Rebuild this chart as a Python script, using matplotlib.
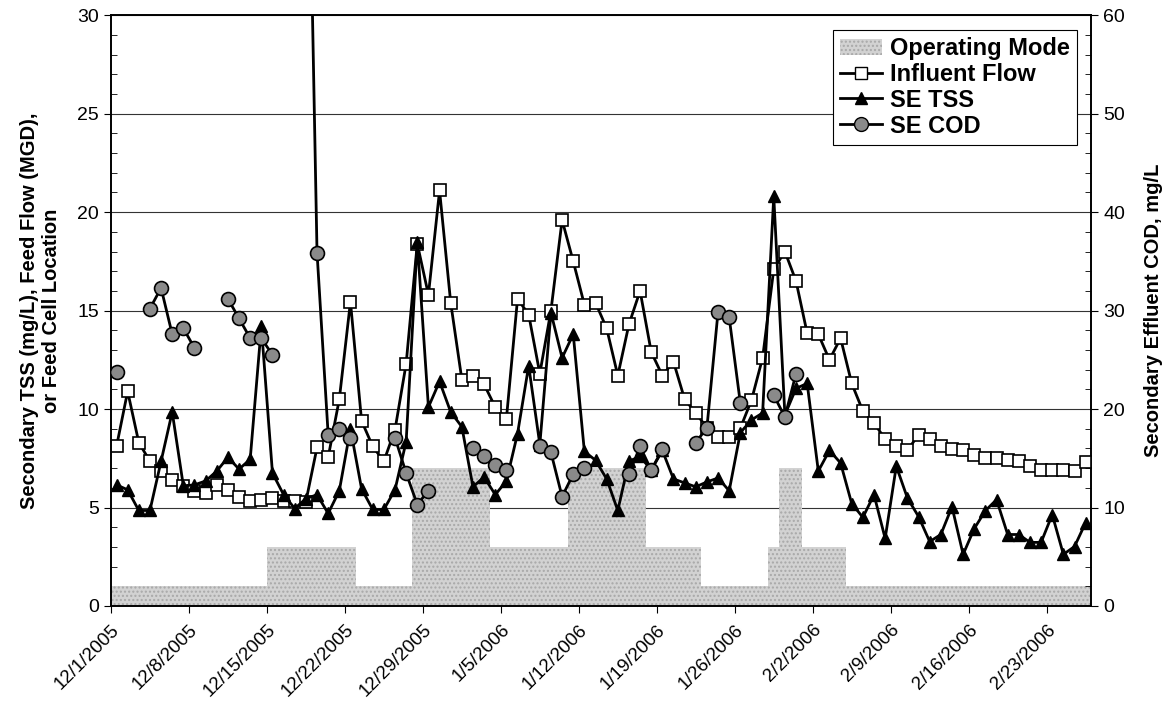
import numpy as np
import matplotlib
matplotlib.use("Agg")
import matplotlib.pyplot as plt
import matplotlib.transforms as mtransforms
from matplotlib.patches import Patch
from matplotlib.lines import Line2D
from matplotlib.ticker import MultipleLocator
import pandas as pd

plt.rcParams["font.family"] = ["Liberation Sans", "DejaVu Sans"]

# daily samples, 12/1/2005 .. 2/26/2006
dates = pd.date_range("2005-12-01", periods=88, freq="D")

operating_mode = (
    [1] * 14 + [3] * 8 + [1] * 5 + [7] * 7 + [3] * 7 + [7] * 7 + [3] * 5
    + [1] * 6 + [3] * 1 + [7] * 2 + [3] * 4 + [1] * 22
)

influent_flow = [
    8.1, 10.9, 8.3, 7.35, 6.85, 6.4, 6.1, 5.85, 5.75, 6.15,
    5.9, 5.55, 5.35, 5.4, 5.5, 5.35, 5.35, 5.3, 8.05, 7.55,
    10.5, 15.45, 9.4, 8.1, 7.35, 8.95, 12.3, 18.4, 15.8, 21.1,
    15.4, 11.5, 11.7, 11.25, 10.1, 9.5, 15.6, 14.8, 11.8, 15.0,
    19.6, 17.5, 15.3, 15.4, 14.1, 11.7, 14.3, 16.0, 12.9, 11.7,
    12.4, 10.5, 9.8, 9.05, 8.57, 8.6, 9.03, 10.45, 12.6, 17.1,
    18.0, 16.5, 13.85, 13.8, 12.5, 13.6, 11.3, 9.9, 9.3, 8.47,
    8.1, 7.9, 8.7, 8.47, 8.1, 7.95, 7.9, 7.65, 7.5, 7.5,
    7.4, 7.35, 7.1, 6.9, 6.9, 6.9, 6.85, 7.3,
]

se_tss = [
    6.15, 5.9, 4.85, 4.85, 7.35, 9.85, 6.1, 6.15, 6.35, 6.85,
    7.55, 6.95, 7.45, 14.2, 6.75, 5.65, 4.95, 5.45, 5.65, 4.7,
    5.85, 9.0, 5.95, 4.9, 4.9, 5.9, 8.35, 18.5, 10.1, 11.4,
    9.85, 9.1, 6.05, 6.55, 5.65, 6.35, 8.75, 12.2, 8.2, 14.9,
    12.6, 13.8, 7.85, 7.4, 6.45, 4.85, 7.35, 7.6, 6.9, 7.9,
    6.45, 6.25, 6.05, 6.3, 6.5, 5.85, 8.8, 9.45, 9.8, 20.8,
    9.7, 11.05, 11.3, 6.85, 7.9, 7.26, 5.2, 4.5, 5.65, 3.43,
    7.1, 5.48, 4.54, 3.27, 3.63, 5.04, 2.62, 3.93, 4.84, 5.4,
    3.63, 3.63, 3.23, 3.23, 4.64, 2.62, 3.02, 4.23,
]

nan = np.nan
se_cod = [
    23.8, nan, nan, 30.2, 32.3, 27.6, 28.2, 26.2, nan, nan,
    31.2, 29.2, 27.2, 27.2, 25.5, nan, nan, 95.0, 35.9, 17.4,
    18.0, 17.1, nan, nan, nan, 17.1, 13.5, 10.3, 11.7, nan,
    nan, nan, 16.0, 15.2, 14.3, 13.8, nan, nan, 16.2, 15.6,
    11.1, 13.4, 14.0, nan, nan, nan, 13.4, 16.2, 13.8, 15.9,
    nan, nan, 16.6, 18.1, 29.9, 29.3, 20.6, nan, nan, 21.4,
    19.2, 23.6, nan, nan, nan, nan, nan, nan, nan, nan,
    nan, nan, nan, nan, nan, nan, nan, nan, nan, nan,
    nan, nan, nan, nan, nan, nan, nan, nan,
]

tick_days = list(range(0, 85, 7))
tick_labels = [f"{d.month}/{d.day}/{d.year}" for d in dates[tick_days]]

days = np.arange(len(dates))
centers = days + 0.5

fig = plt.figure(figsize=(11.74, 7.24), dpi=100)
ax = fig.add_axes([0.0945, 0.163, 0.835, 0.816])

mode_color = "#d2d2d2"
ax.bar(days, operating_mode, width=1.0, align="edge", color=mode_color,
       edgecolor="#a8a8a8", linewidth=0, hatch="....", zorder=1)

ax.plot(centers, influent_flow, color="black", lw=2, marker="s", ms=9,
        mfc="white", mec="black", mew=1.2, zorder=4)
ax.plot(centers, se_tss, color="black", lw=2, marker="^", ms=9,
        mfc="black", mec="black", zorder=5)

ax.set_xlim(0, 88)
ax.set_ylim(0, 30)
ax.yaxis.set_major_locator(MultipleLocator(5))
ax.yaxis.set_minor_locator(MultipleLocator(1))
ax.grid(axis="y", which="major", color="#333333", lw=0.8, zorder=0)
ax.set_axisbelow(True)
ax.set_xticks(tick_days)
ax.set_xticklabels(tick_labels, rotation=45, ha="right", rotation_mode="anchor",
                   fontsize=13.5)
# nudge date labels a little left, as in the original
shift = mtransforms.ScaledTranslation(-5 / 100, -2 / 100, fig.dpi_scale_trans)
for lbl in ax.get_xticklabels():
    lbl.set_transform(lbl.get_transform() + shift)
ax.tick_params(axis="y", which="major", direction="out", length=5, labelsize=14)
ax.tick_params(axis="y", which="minor", direction="in", length=4)
ax.tick_params(axis="x", direction="out", length=5, pad=6)
ax.set_ylabel("Secondary TSS (mg/L), Feed Flow (MGD),\nor Feed Cell Location",
              fontsize=14.5, fontweight="bold", labelpad=12)

ax2 = ax.twinx()
ax2.plot(centers, se_cod, color="black", lw=2, marker="o", ms=10,
         mfc="#8a8a8a", mec="black", mew=1.2, zorder=6)
ax2.set_ylim(0, 60)
ax2.yaxis.set_major_locator(MultipleLocator(10))
ax2.yaxis.set_minor_locator(MultipleLocator(2))
ax2.tick_params(axis="y", which="major", direction="out", length=5, labelsize=14)
ax2.tick_params(axis="y", which="minor", direction="in", length=4)
ax2.set_ylabel("Secondary Effluent COD, mg/L", fontsize=14.5, fontweight="bold",
               labelpad=14)

for a in (ax, ax2):
    for s in a.spines.values():
        s.set_linewidth(1.2)

handles = [
    Patch(facecolor=mode_color, edgecolor="#a8a8a8", hatch="....", linewidth=0),
    Line2D([], [], color="black", lw=2, marker="s", ms=9, mfc="white", mec="black"),
    Line2D([], [], color="black", lw=2, marker="^", ms=9, mfc="black"),
    Line2D([], [], color="black", lw=2, marker="o", ms=10, mfc="#8a8a8a", mec="black"),
]
labels = ["Operating Mode", "Influent Flow", "SE TSS", "SE COD"]
leg = ax2.legend(handles, labels, loc="upper right", bbox_to_anchor=(0.985, 0.975),
                 borderaxespad=0, prop={"size": 17, "weight": "bold"},
                 fancybox=False, framealpha=1, edgecolor="black",
                 handlelength=1.8, handletextpad=0.3, labelspacing=0.12,
                 borderpad=0.3)
leg.get_frame().set_linewidth(0.8)

fig.savefig("out.png", dpi=100)
